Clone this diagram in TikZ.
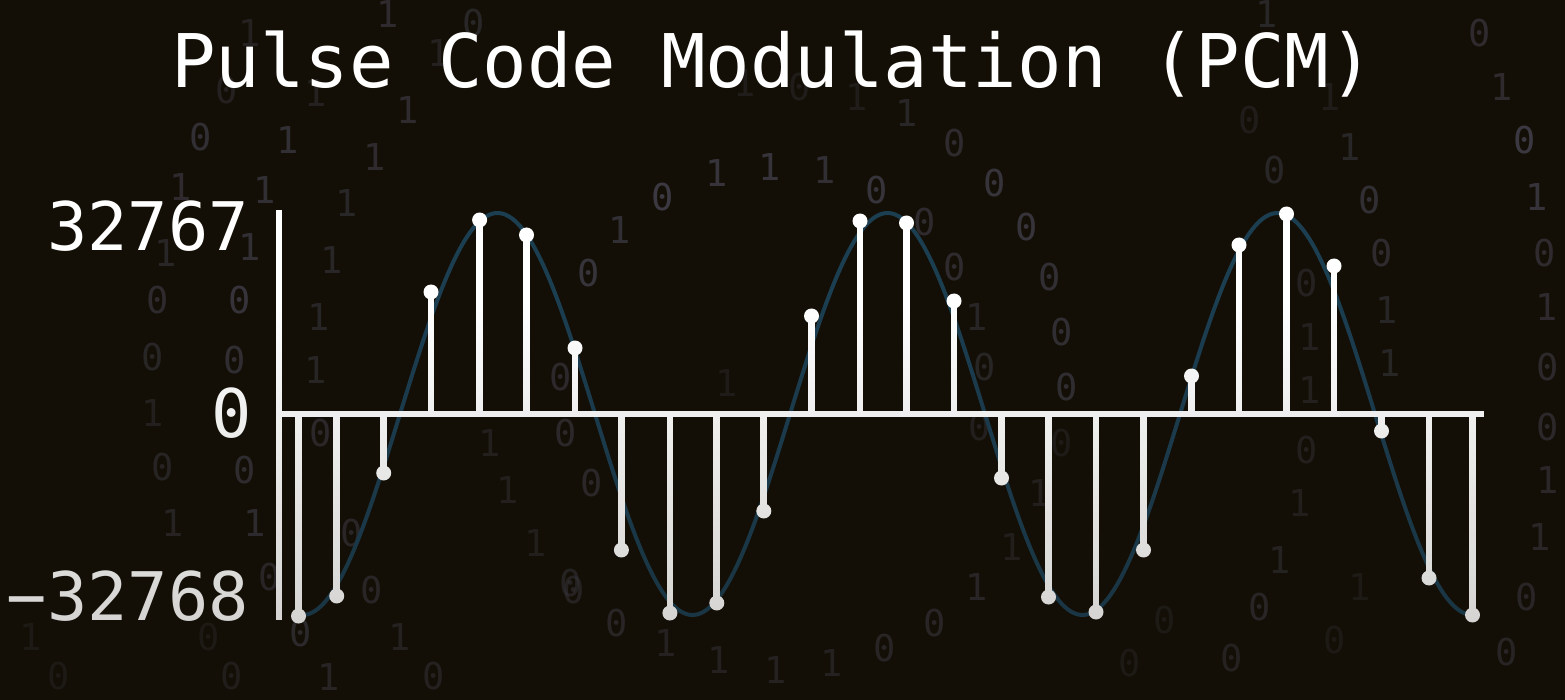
\documentclass[tikz,border=0pt]{standalone}
\usepackage{fontspec}
\setmonofont{DejaVu Sans Mono}
\usetikzlibrary{fadings}
\definecolor{bg}{HTML}{130F06}
\definecolor{bitgray}{HTML}{403D48}
\definecolor{wave}{HTML}{1C3E51}

\begin{document}
\begin{tikzpicture}[x=1pt, y=-1pt,
		bit/.style={text=bitgray, inner sep=0pt, font=\ttfamily\fontsize{37}{40}\selectfont},
		lbl/.style={text=white, inner sep=0pt, anchor=base east, font=\ttfamily\fontsize{67}{70}\selectfont},
		heading/.style={text=white, inner sep=0pt, anchor=base, font=\ttfamily\fontsize{74}{80}\selectfont},
		axis/.style={draw=white, line width=6.5pt},
		stem/.style={draw=white, line width=6.8pt},
		wavy/.style={draw=wave, line width=4pt},
		sample/.style={circle, fill=white, inner sep=0pt, minimum size=15pt}]
	\fill[bg] (0,0) rectangle (1565,700);
	\useasboundingbox (0,0) rectangle (1565,700);
	% falling bits
	\foreach \x/\y/\d/\o [count=\i] in {
			388/14/1/.6, 250/33/1/.4, 227/90/0/.4, 316/93/1/.4, 439/53/1/.4, 474/23/0/.5,
			408/110/1/.6, 201/137/0/.7, 288/140/1/.7, 375/157/1/.6, 181/187/1/.6, 265/190/1/.7,
			347/203/1/.5, 250/247/1/.7, 166/253/1/.5, 332/260/1/.5, 158/300/0/.6, 240/300/0/.8,
			319/317/1/.5, 663/197/0/.9, 717/173/1/.8, 770/167/1/.8, 620/230/1/.7, 589/273/0/.8,
			745/83/1/.3, 1267/14/1/.5, 1480/33/0/.6, 1502/87/1/.6, 1525/140/0/.9, 1537/197/1/.8,
			907/113/1/.5, 955/143/0/.6, 825/170/1/.7, 877/190/0/.8, 995/183/0/.8, 1027/227/0/.8,
			1250/120/0/.3, 1350/147/1/.5, 1275/170/0/.5, 1370/200/0/.7, 1330/97/1/.3, 857/97/1/.3,
			800/87/0/.3, 925/222/0/.6, 955/267/0/.6, 1050/277/0/.7, 977/317/1/.5, 1062/332/0/.7,
			985/367/0/.5, 1067/387/0/.7, 1382/253/0/.6, 1387/310/1/.5, 1310/337/1/.4, 1390/363/1/.5,
			1307/283/0/.4, 1310/390/1/.4, 1545/253/0/.6, 1547/307/1/.6, 1548/367/0/.6, 1548/427/0/.6,
			1548/480/1/.6, 1540/537/1/.6, 1527/597/0/.6, 1307/450/0/.4, 1300/503/1/.4, 1280/560/1/.5,
			1260/607/0/.6, 977/587/1/.6, 935/623/0/.6, 1040/493/1/.4, 1012/547/1/.4, 1062/443/0/.3,
			980/427/0/.4, 885/648/0/.6, 832/663/1/.5, 1232/658/0/.5, 1130/663/0/.3, 1335/640/0/.3,
			1507/652/0/.6, 1360/587/1/.3, 1165/620/0/.3, 301/633/0/.7, 400/637/1/.5, 329/677/1/.6,
			434/676/0/.5, 232/676/0/.4, 209/637/0/.3, 372/590/0/.6, 270/577/0/.6, 574/590/0/.5,
			617/623/0/.6, 666/643/1/.5, 719/660/1/.5, 776/670/1/.5, 31/637/1/.3, 59/676/0/.3,
			153/357/0/.5, 235/360/0/.7, 316/370/1/.5, 153/413/1/.4, 321/433/0/.6, 490/443/1/.4,
			561/377/0/.6, 566/433/0/.6, 592/483/0/.6, 508/490/1/.4, 163/467/0/.5, 245/470/0/.7,
			173/523/1/.5, 255/523/1/.7, 352/533/0/.6, 536/543/1/.4, 571/583/0/.5, 727/383/1/.3}
		\node[bit, opacity=\o] (bit\i) at (\x,\y) {\d};

	\node[heading] (title) at (772.5,88) {Pulse Code Modulation (PCM)};

	% axes
	\coordinate (o) at (279,414);
	\coordinate (ytop) at (279,210);
	\coordinate (ybot) at (279,620);
	\coordinate (xend) at (1484,414);
	\node[lbl] (ymax) at (249,251) {32767};
	\node[lbl] (yzero) at (252,437) {0};
	\node[lbl] (ymin) at (249,620) {−32768};

	\draw[wavy] plot[domain=298:1476, samples=240, smooth] (\x, {414-201*sin((\x-400)/390*360)});
	\draw[axis] (ytop) -- (ybot);
	\draw[axis] (o) -- (xend);

	% samples
	\foreach \x/\y [count=\i] in {298.5/616, 336.7/596, 383.7/473, 431/292, 479.6/220, 526.5/235,
			575/348, 621.4/550, 669.9/613, 716.8/603, 763.8/511, 811.5/316, 860/221, 906.5/223,
			954/301, 1001.5/478, 1048.5/597, 1096/612, 1143.5/550, 1191.5/376, 1239/245,
			1286.5/214, 1334/266, 1381.5/431, 1429/578, 1472.5/615} {
		\coordinate (b\i) at (\x,414);
		\node[sample] (s\i) at (\x,\y) {};
		\draw[stem] (b\i) -- (s\i.center);
	}

	\fill[bg, fill opacity=.22, path fading=north] (0,300) rectangle (1565,700);
\end{tikzpicture}
\end{document}
